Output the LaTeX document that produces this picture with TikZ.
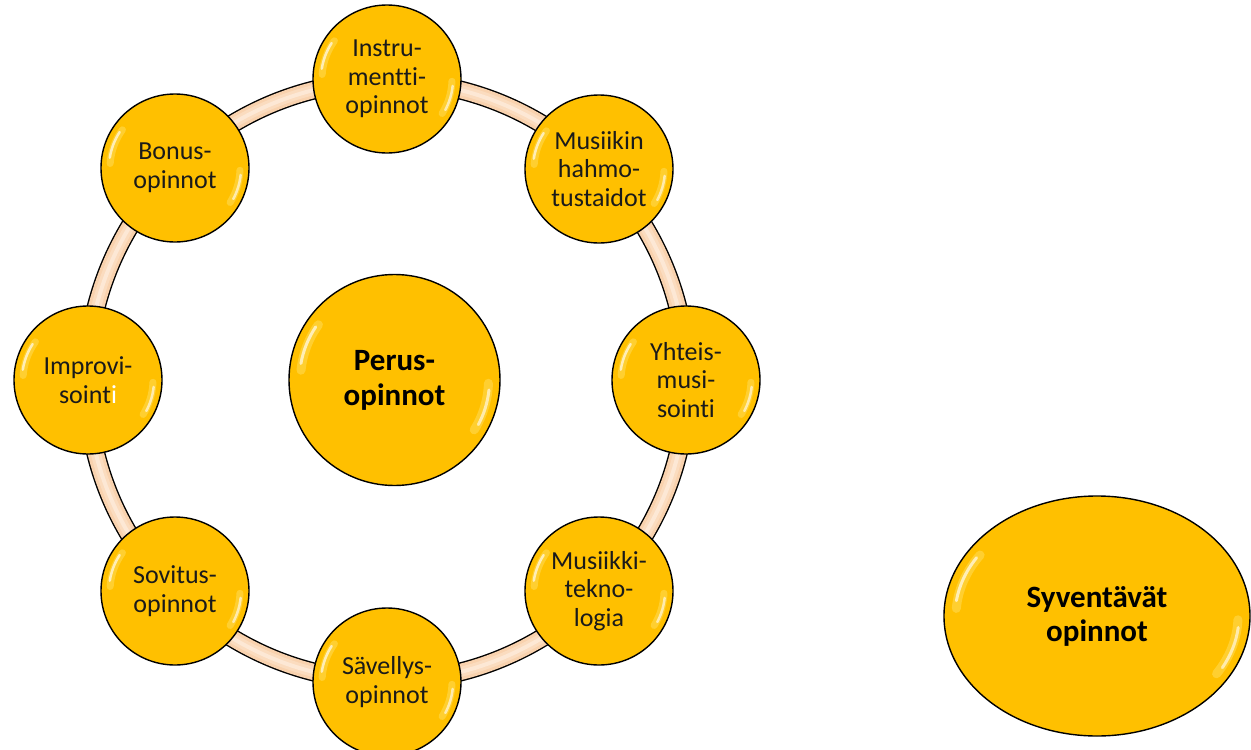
\documentclass[tikz,border=0pt]{standalone}
\usepackage{fontspec}
\setmainfont{Carlito}[Ligatures=CommonOff]
\usetikzlibrary{shapes.geometric}
\definecolor{gold}{HTML}{FFC000}
\definecolor{hlcol}{HTML}{FFF3A0}
\definecolor{ringA}{HTML}{F9D2AE}
\definecolor{ringB}{HTML}{FBDCBF}
\definecolor{ringC}{HTML}{FDE8D5}
\definecolor{txt}{HTML}{1A1A1A}
\begin{document}
\begin{tikzpicture}[x=1pt,y=1pt,
  smallhl/.style={path picture={
    \draw[hlcol, line width=7pt, opacity=.3, line cap=round] ([shift={(144:65pt)}]path picture bounding box.center) arc[start angle=144, end angle=176, radius=65pt];
    \draw[white, line width=2.5pt, opacity=.65, line cap=round] ([shift={(147:66pt)}]path picture bounding box.center) arc[start angle=147, end angle=171, radius=66pt];
    \draw[hlcol, line width=7pt, opacity=.3, line cap=round] ([shift={(-32:65pt)}]path picture bounding box.center) arc[start angle=-32, end angle=-2, radius=65pt];
    \draw[white, line width=2.5pt, opacity=.6, line cap=round] ([shift={(-28:66pt)}]path picture bounding box.center) arc[start angle=-28, end angle=-6, radius=66pt];
  }},
  bighl/.style={path picture={
    \draw[hlcol, line width=9pt, opacity=.3, line cap=round] ([shift={(144:94pt)}]path picture bounding box.center) arc[start angle=144, end angle=174, radius=94pt];
    \draw[white, line width=3pt, opacity=.65, line cap=round] ([shift={(146:95pt)}]path picture bounding box.center) arc[start angle=146, end angle=170, radius=95pt];
    \draw[hlcol, line width=9pt, opacity=.3, line cap=round] ([shift={(-32:94pt)}]path picture bounding box.center) arc[start angle=-32, end angle=-2, radius=94pt];
    \draw[white, line width=3pt, opacity=.6, line cap=round] ([shift={(-28:95pt)}]path picture bounding box.center) arc[start angle=-28, end angle=-6, radius=95pt];
  }},
  ellhl/.style={path picture={
    \draw[hlcol, line width=9pt, opacity=.3, line cap=round] ([shift={(146:141pt and 109pt)}]path picture bounding box.center) arc[start angle=146, end angle=176, x radius=141pt, y radius=109pt];
    \draw[white, line width=3pt, opacity=.65, line cap=round] ([shift={(148:142pt and 110pt)}]path picture bounding box.center) arc[start angle=148, end angle=172, x radius=142pt, y radius=110pt];
    \draw[hlcol, line width=9pt, opacity=.3, line cap=round] ([shift={(-32:141pt and 109pt)}]path picture bounding box.center) arc[start angle=-32, end angle=-2, x radius=141pt, y radius=109pt];
    \draw[white, line width=3pt, opacity=.6, line cap=round] ([shift={(-28:142pt and 110pt)}]path picture bounding box.center) arc[start angle=-28, end angle=-6, x radius=142pt, y radius=110pt];
  }},
  bubble/.style={circle, draw=black, line width=1.4pt, fill=gold, minimum size=148pt,
    inner sep=0pt, align=center, text=txt, font=\fontsize{26}{28.5}\selectfont, smallhl},
  bigbubble/.style={circle, draw=black, line width=1.4pt, fill=gold, minimum size=211pt,
    inner sep=0pt, align=center, text=black, font=\fontsize{31}{35}\selectfont\bfseries, bighl},
  ellbubble/.style={ellipse, draw=black, line width=1.4pt, fill=gold, minimum width=306pt,
    minimum height=240pt, inner sep=0pt, align=center, text=black, font=\fontsize{31}{34}\selectfont\bfseries, ellhl}
]
\useasboundingbox (0,0) rectangle (1251,-750);
\fill[white] (0,0) rectangle (1251,-750);

\coordinate (rc) at (387,-381);
\draw[black, line width=19pt] (rc) circle[radius=300pt];
\draw[ringA, line width=16.2pt] (rc) circle[radius=300pt];
\draw[ringB, line width=10pt] (rc) circle[radius=300pt];
\draw[ringC, line width=4pt] (rc) circle[radius=300pt];

\node[bubble] (instr) at (387,-79) {Instru-\\mentti-\\opinnot};
\node[bubble] (hahmo) at (599,-169) {Musiikin\\hahmo-\\tustaidot};
\node[bubble] (yhteis) at (686,-380) {Yhteis-\\musi-\\sointi};
\node[bubble] (tekno) at (599,-591) {Musiikki-\\tekno-\\logia};
\node[bubble] (savel) at (387,-682) {Sävellys-\\opinnot};
\node[bubble] (sovitus) at (175,-591) {Sovitus-\\opinnot};
\node[bubble] (improv) at (88,-380) {Improvi-\\soint{\color{white}i}};
\node[bubble] (bonus) at (175,-168) {Bonus-\\opinnot};

\node[bigbubble] (perus) at (394.5,-380) {Perus-\\opinnot};
\node[ellbubble] (syv) at (1097,-616) {Syventävät\\opinnot};
\end{tikzpicture}
\end{document}
